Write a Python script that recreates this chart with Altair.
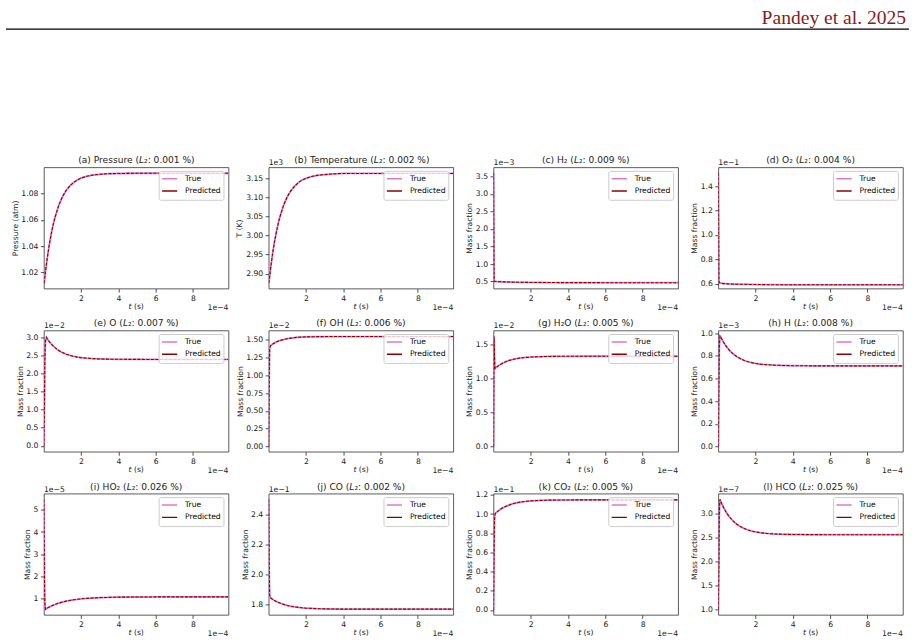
import altair as alt
import pandas as pd

# ---------------- data (time in units of 1e-4 s, values in the axis units shown) ----------------
t_e4 = [0.01, 0.04, 0.06, 0.08, 0.1, 0.15, 0.2, 0.3, 0.4, 0.5, 0.6, 0.8, 1.0, 1.2, 1.4,
        1.6, 1.8, 2.0, 2.3, 2.6, 3.0, 3.5, 4.0, 5.0, 6.0, 7.0, 8.0, 9.0, 9.9]

pressure_true = [1.0118, 1.0138, 1.0164, 1.0188, 1.0212, 1.0268, 1.0320, 1.0413, 1.0492, 1.0560,
                 1.0617, 1.0709, 1.0775, 1.0824, 1.0859, 1.0885, 1.0904, 1.0918, 1.0932, 1.0941,
                 1.0947, 1.0952, 1.0953, 1.0955, 1.0955, 1.0955, 1.0955, 1.0955, 1.0955]
temperature_true = [2.875, 2.884, 2.893, 2.901, 2.909, 2.928, 2.946, 2.978, 3.004, 3.027, 3.047,
                    3.078, 3.101, 3.117, 3.129, 3.138, 3.145, 3.149, 3.154, 3.157, 3.159, 3.161,
                    3.162, 3.162, 3.162, 3.162, 3.162, 3.162, 3.162]
h2_true = [3.60, 0.52, 0.51, 0.508, 0.505, 0.502, 0.500, 0.497, 0.494, 0.492, 0.490, 0.487, 0.484,
           0.481, 0.479, 0.477, 0.476, 0.475, 0.474, 0.473, 0.472, 0.471, 0.470, 0.469, 0.468,
           0.468, 0.467, 0.467, 0.467]
o2_true = [1.51, 0.62, 0.610, 0.607, 0.605, 0.603, 0.602, 0.600, 0.599, 0.598, 0.597, 0.596, 0.595,
           0.594, 0.594, 0.593, 0.593, 0.592, 0.592, 0.591, 0.591, 0.590, 0.590, 0.590, 0.590,
           0.590, 0.590, 0.590, 0.590]
o_true = [0.0, 1.2, 2.3, 2.75, 2.92, 3.00, 2.955, 2.882, 2.820, 2.765, 2.717, 2.640, 2.581, 2.537,
          2.502, 2.476, 2.456, 2.441, 2.425, 2.413, 2.404, 2.398, 2.395, 2.392, 2.39, 2.39, 2.39,
          2.39, 2.39]
oh_true = [0.0, 1.0, 1.38, 1.40, 1.41, 1.425, 1.435, 1.452, 1.466, 1.478, 1.488, 1.503, 1.515,
           1.523, 1.530, 1.535, 1.538, 1.540, 1.542, 1.543, 1.544, 1.545, 1.545, 1.545, 1.545,
           1.545, 1.545, 1.545, 1.545]
h2o_true = [0.0, 1.62, 1.35, 1.18, 1.15, 1.162, 1.174, 1.195, 1.213, 1.228, 1.242, 1.264, 1.280,
            1.293, 1.302, 1.309, 1.314, 1.318, 1.322, 1.325, 1.327, 1.329, 1.329, 1.33, 1.33,
            1.33, 1.33, 1.33, 1.33]
h_true = [0.0, 0.55, 0.85, 0.94, 0.975, 0.965, 0.948, 0.918, 0.892, 0.870, 0.850, 0.818, 0.793,
          0.774, 0.759, 0.748, 0.740, 0.733, 0.726, 0.722, 0.718, 0.715, 0.713, 0.712, 0.712,
          0.712, 0.712, 0.712, 0.712]
ho2_true = [5.48, 2.0, 0.8, 0.6, 0.52, 0.545, 0.575, 0.622, 0.665, 0.703, 0.737, 0.797, 0.846,
            0.887, 0.920, 0.948, 0.971, 0.990, 1.012, 1.029, 1.045, 1.058, 1.067, 1.075, 1.078,
            1.08, 1.08, 1.08, 1.08]
co_true = [2.50, 2.0, 1.86, 1.845, 1.843, 1.838, 1.834, 1.826, 1.819, 1.813, 1.808, 1.799, 1.792,
           1.786, 1.782, 1.779, 1.776, 1.774, 1.772, 1.770, 1.769, 1.768, 1.767, 1.767, 1.767,
           1.767, 1.767, 1.767, 1.767]
co2_true = [0.0, 0.6, 0.93, 0.99, 1.004, 1.014, 1.022, 1.038, 1.052, 1.064, 1.074, 1.091, 1.105,
            1.115, 1.123, 1.129, 1.133, 1.137, 1.140, 1.143, 1.145, 1.146, 1.147, 1.148, 1.148,
            1.148, 1.148, 1.148, 1.148]
hco_true = [1.0, 2.0, 2.9, 3.2, 3.29, 3.24, 3.195, 3.113, 3.042, 2.981, 2.927, 2.840, 2.772, 2.721,
            2.682, 2.651, 2.629, 2.611, 2.592, 2.579, 2.568, 2.561, 2.557, 2.554, 2.553, 2.553,
            2.553, 2.553, 2.553]

# predictions overlap the ground truth everywhere at this resolution
pressure_pred = list(pressure_true)
temperature_pred = list(temperature_true)
h2_pred = list(h2_true)
o2_pred = list(o2_true)
o_pred = list(o_true)
oh_pred = list(oh_true)
h2o_pred = list(h2o_true)
h_pred = list(h_true)
ho2_pred = list(ho2_true)
co_pred = list(co_true)
co2_pred = list(co2_true)
hco_pred = list(hco_true)

panel_keys = ["a", "b", "c", "d", "e", "f", "g", "h", "i", "j", "k", "l"]
panel_species = ["Pressure", "Temperature", "H₂", "O₂", "O", "OH", "H₂O", "H", "HO₂", "CO", "CO₂", "HCO"]
panel_l2 = ["0.001", "0.002", "0.009", "0.004", "0.007", "0.006", "0.005", "0.008", "0.026", "0.002", "0.005", "0.025"]
panel_ylabel = ["Pressure (atm)", "T (K)"] + ["Mass fraction"] * 10
panel_offset = ["", "1e3", "1e−3", "1e−1", "1e−2", "1e−2", "1e−2", "1e−3", "1e−5", "1e−1", "1e−1", "1e−7"]
panel_true = [pressure_true, temperature_true, h2_true, o2_true, o_true, oh_true,
              h2o_true, h_true, ho2_true, co_true, co2_true, hco_true]
panel_pred = [pressure_pred, temperature_pred, h2_pred, o2_pred, o_pred, oh_pred,
              h2o_pred, h_pred, ho2_pred, co_pred, co2_pred, hco_pred]
y_domains = [[1.0078, 1.100], [2.861, 3.178], [0.30, 3.757], [0.559, 1.557],
             [-0.165, 3.193], [-0.074, 1.63], [-0.078, 1.71], [-0.046, 1.024],
             [0.27, 5.73], [1.729, 2.537], [-0.052, 1.213], [0.88, 3.41]]
y_ticks = [[1.02, 1.04, 1.06, 1.08], [2.90, 2.95, 3.00, 3.05, 3.10, 3.15],
           [0.5, 1.0, 1.5, 2.0, 2.5, 3.0, 3.5], [0.6, 0.8, 1.0, 1.2, 1.4],
           [0.0, 0.5, 1.0, 1.5, 2.0, 2.5, 3.0], [0.0, 0.25, 0.5, 0.75, 1.0, 1.25, 1.5],
           [0.0, 0.5, 1.0, 1.5], [0.0, 0.2, 0.4, 0.6, 0.8, 1.0],
           [1, 2, 3, 4, 5], [1.8, 2.0, 2.2, 2.4],
           [0.0, 0.2, 0.4, 0.6, 0.8, 1.0, 1.2], [1.0, 1.5, 2.0, 2.5, 3.0]]
y_formats = [".2f", ".2f", ".1f", ".1f", ".1f", ".2f", ".1f", ".1f", "d", ".1f", ".1f", ".1f"]
x_ticks = [2, 4, 6, 8]
x_domain = [0.01, 9.9]
series_names = ["True", "Predicted"]

# ---------------- styling / layout ----------------
PINK = "#e377c2"
DARK = "#8b0000"
TXT = "#222222"
W, H = 185, 121.5
FONT = "DejaVu Sans"
TITLE_SIZE = 9.1
LABEL_SIZE = 7.6
TICK_SIZE = 7.7
ytitle_x = [-28.5, -29, -23.7, -24, -23.5, -28.5, -24, -24, -16, -23.3, -24, -23.7]

CW = {' ': 0.318, '(': 0.390, ')': 0.390, 'a': 0.613, 'b': 0.635, 'c': 0.550, 'd': 0.635,
      'e': 0.615, 'f': 0.352, 'g': 0.635, 'h': 0.634, 'i': 0.278, 'j': 0.278, 'k': 0.579,
      'l': 0.278, 'm': 0.974, 'p': 0.635, 'r': 0.411, 's': 0.521, 't': 0.392, 'u': 0.634,
      'P': 0.603, 'T': 0.611, 'H': 0.752, 'O': 0.787, 'C': 0.698, ':': 0.337, '.': 0.318,
      '%': 0.950, '₂': 0.41, 'L': 0.557}


def tw(s, size):
    return sum(CW.get(c, 0.636) for c in s) * size


ONE = pd.DataFrame({"k": [0]})


def txt(s, x, y, size, align="left", style="normal", color=TXT, font=FONT):
    return alt.Chart(ONE).mark_text(
        text=s, align=align, baseline="alphabetic", fontSize=size, fontStyle=style,
        color=color, font=font
    ).encode(x=alt.value(x), y=alt.value(y))


def make_panel(i):
    df = pd.DataFrame({
        "t": t_e4 * 2,
        "v": panel_true[i] + panel_pred[i],
        "series": ["True"] * len(t_e4) + ["Predicted"] * len(t_e4),
    })
    x = alt.X("t:Q", scale=alt.Scale(domain=x_domain, nice=False, zero=False),
              axis=alt.Axis(values=x_ticks, format="d", title=None, labelFlush=False,
                            labelOverlap=False, labelPadding=2.2))
    y = alt.Y("v:Q", scale=alt.Scale(domain=y_domains[i], nice=False, zero=False),
              axis=alt.Axis(values=y_ticks[i], format=y_formats[i], title=panel_ylabel[i],
                            titleX=ytitle_x[i], titleBaseline="middle", labelFlush=False,
                            labelOverlap=False, labelPadding=2.5))
    color = alt.Color("series:N",
                      scale=alt.Scale(domain=series_names, range=[PINK, DARK]),
                      legend=alt.Legend(orient="none", legendX=115, legendY=3.5, title=None,
                                        fillColor="rgba(255,255,255,0.8)", strokeColor="#cccccc",
                                        cornerRadius=2, padding=2.5, symbolType="stroke",
                                        symbolSize=230, symbolStrokeWidth=1.5, clipHeight=11,
                                        labelFontSize=LABEL_SIZE, labelColor="black",
                                        labelFont=FONT, labelOffset=7, rowPadding=1.3))
    base = alt.Chart(df)
    l_true = base.transform_filter(alt.datum.series == "True").mark_line(
        strokeWidth=1.8, clip=True).encode(x=x, y=y, color=color)
    l_pred = base.transform_filter(alt.datum.series == "Predicted").mark_line(
        strokeWidth=1.1, strokeDash=[3, 1.5], clip=True).encode(x=x, y=y, color=color)

    layers = [l_true, l_pred]

    # title: "(x) Species (L₂: n %)" with italic L
    a_txt = f"({panel_keys[i]}) {panel_species[i]} ("
    d_txt = f"₂: {panel_l2[i]} %)"
    wa, wl, wd = tw(a_txt, TITLE_SIZE), tw("L", TITLE_SIZE), tw(d_txt, TITLE_SIZE)
    xl = W / 2 - (wa + wl + wd) / 2 + wa
    layers += [txt(a_txt, xl, -4, TITLE_SIZE, align="right"),
               txt("L", xl, -4, TITLE_SIZE, style="italic"),
               txt(d_txt, xl + wl, -4, TITLE_SIZE)]

    # x axis label "t (s)" with italic t and the offset text
    wt = tw("t", LABEL_SIZE)
    wsp = tw(" ", LABEL_SIZE)
    wrest = tw("(s)", LABEL_SIZE)
    xm = W / 2 - (wt + wsp + wrest) / 2
    layers += [txt("t", xm, H + 20.5, LABEL_SIZE, style="italic"),
               txt("(s)", xm + wt + wsp, H + 20.5, LABEL_SIZE),
               txt("1e−4", W, H + 21, TICK_SIZE, align="right")]
    if panel_offset[i]:
        layers.append(txt(panel_offset[i], 0, -2, TICK_SIZE))

    if i == 0:
        # page header and frame anchor (page is 915 x 643, panel (a) starts at 43,166)
        layers += [
            txt("Pandey et al. 2025", 864, -144, 19.6, align="right",
                color="#861b1b", font="Liberation Serif"),
            alt.Chart(ONE).mark_rule(color="black", strokeWidth=1.4).encode(
                x=alt.value(-38), x2=alt.value(867), y=alt.value(-138.5)),
            alt.Chart(ONE).mark_rect(opacity=0).encode(
                x=alt.value(-43), x2=alt.value(872), y=alt.value(-166), y2=alt.value(477)),
        ]
    return alt.layer(*layers).properties(width=W, height=H)


panels = [make_panel(i) for i in range(12)]

chart = alt.concat(
    *panels, columns=4, spacing={"row": 41.5, "column": 40.3}, bounds="flush"
).resolve_scale(color="independent").resolve_legend(color="independent").properties(
    padding=0, background="white"
).configure(font=FONT).configure_view(
    stroke="#333333", strokeWidth=0.8
).configure_axis(
    grid=False, domain=False, labelFontSize=TICK_SIZE, labelColor=TXT, labelFont=FONT,
    tickColor=TXT, tickSize=3.5, tickWidth=0.8, titleFontSize=LABEL_SIZE,
    titleFontWeight="normal", titleColor=TXT, titleFont=FONT
)

chart.save("out.html", embed_options={"renderer": "svg", "actions": False})
